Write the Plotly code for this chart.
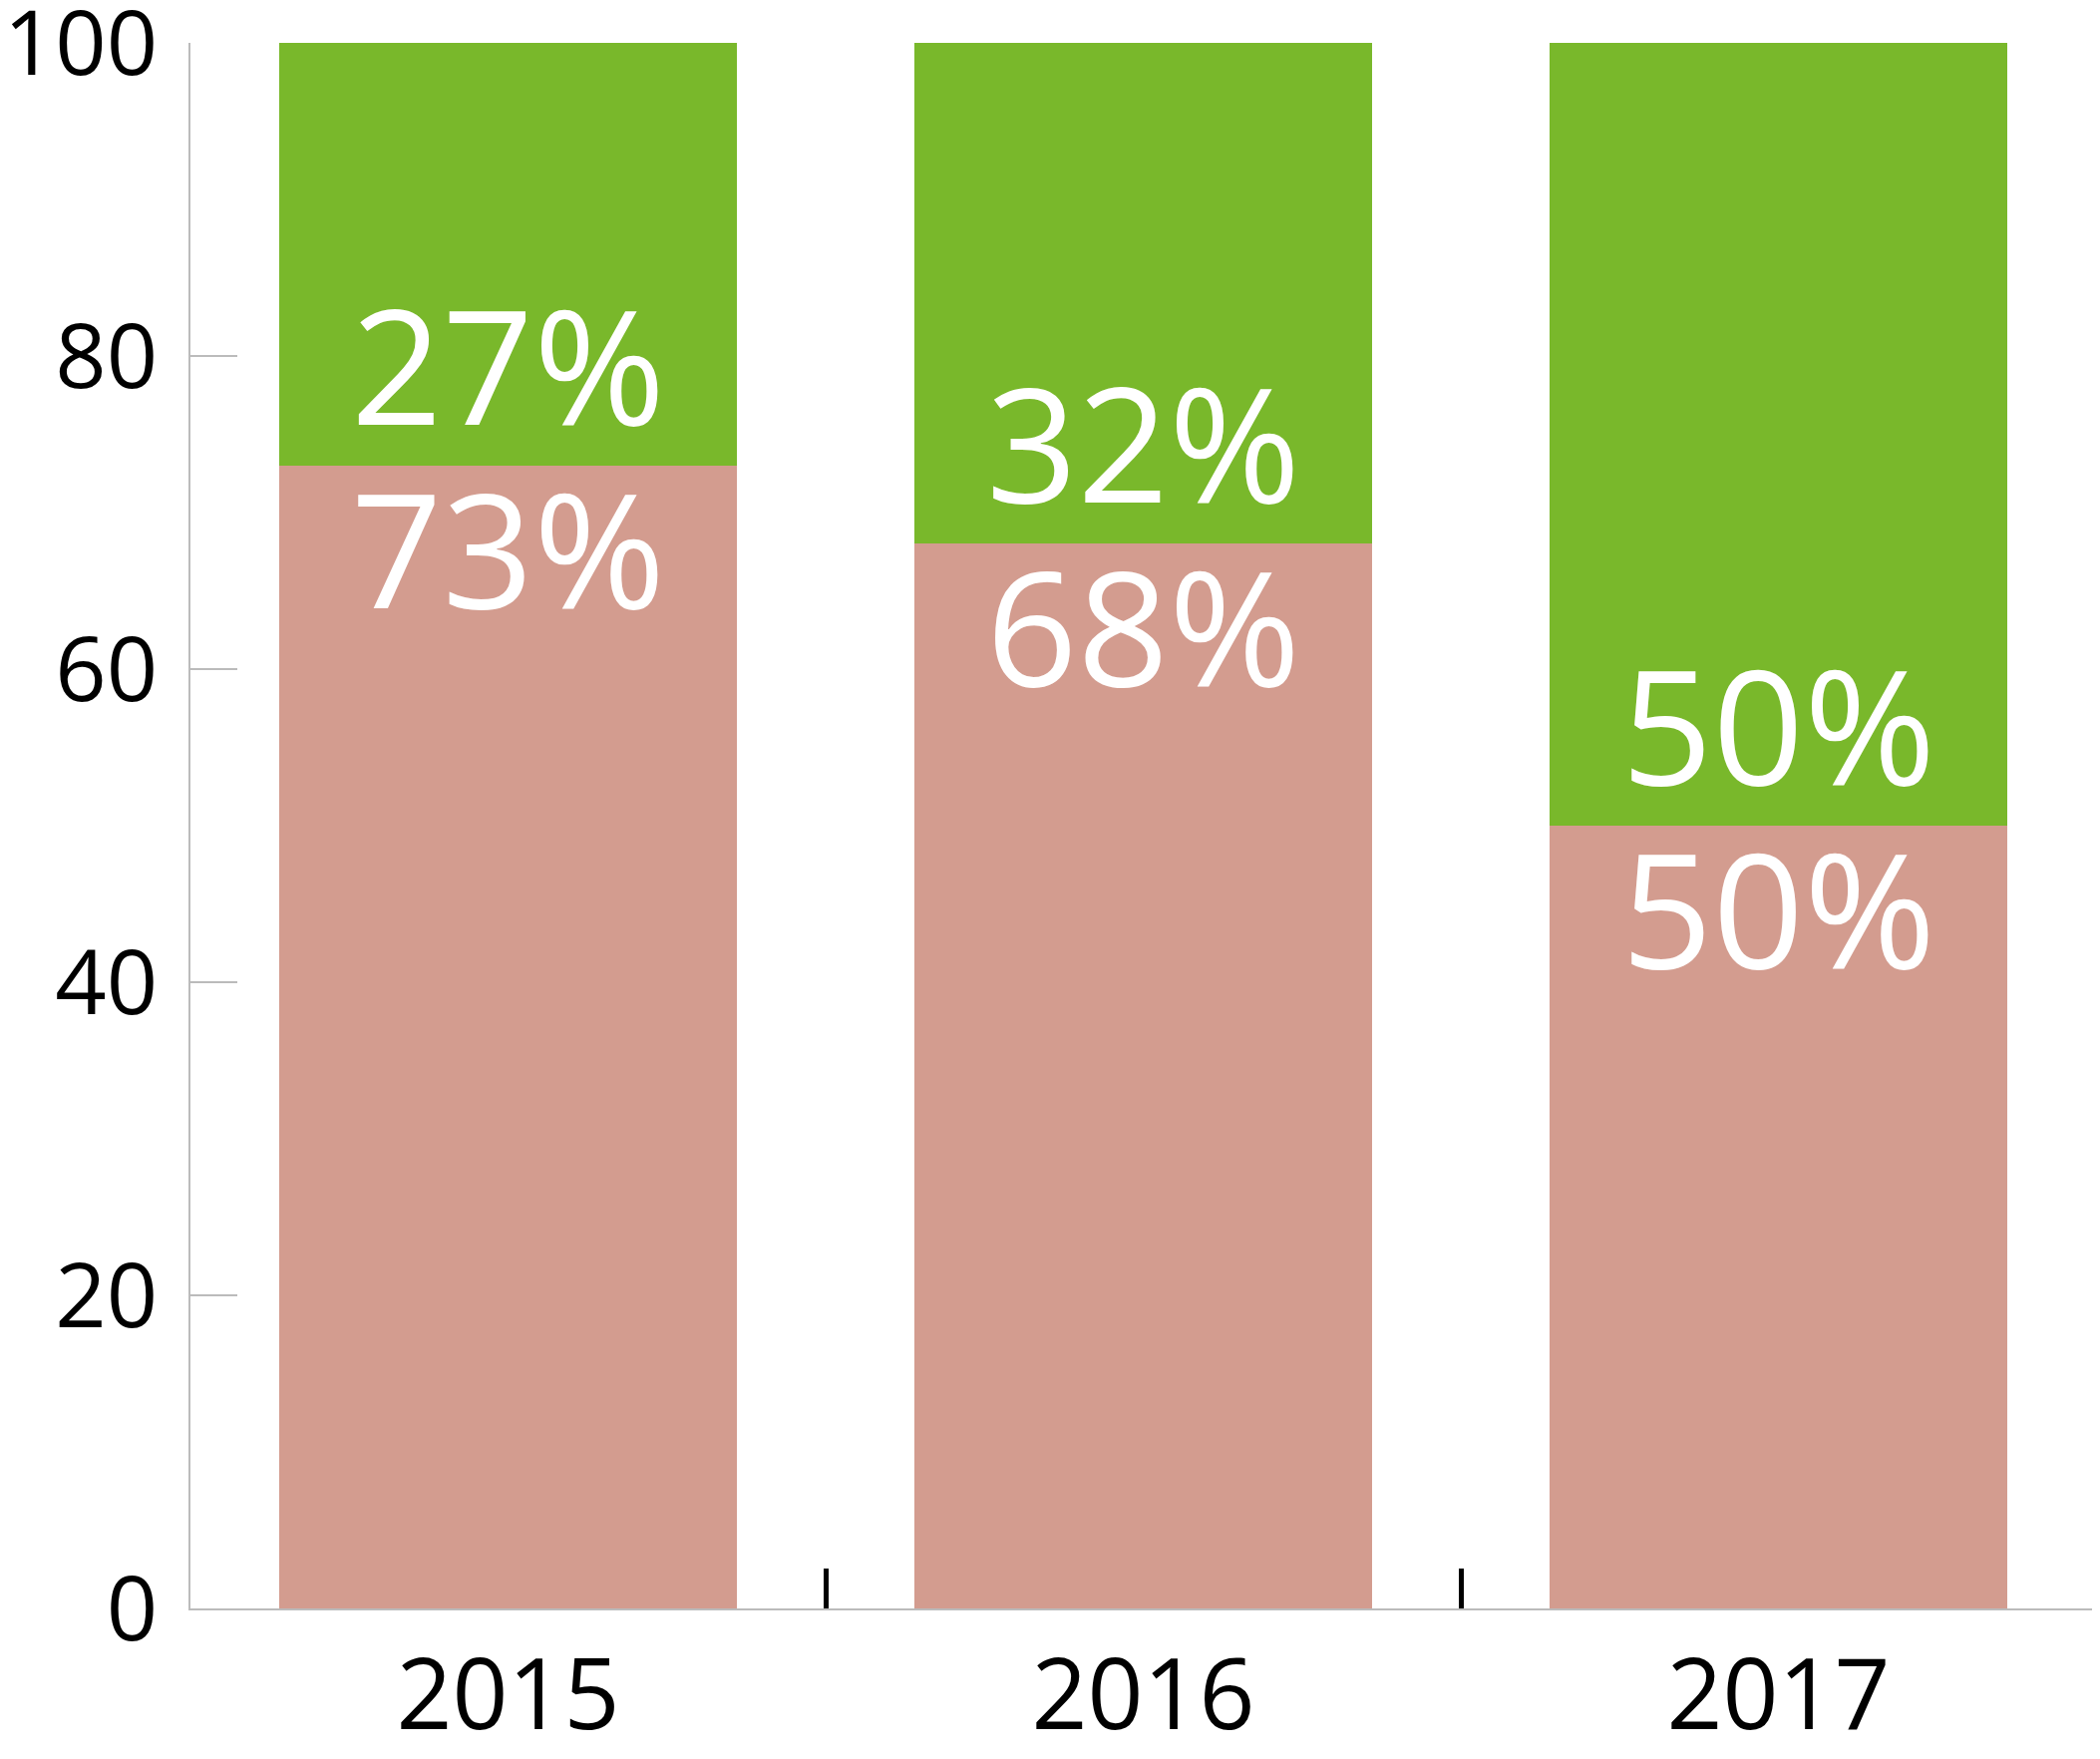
import plotly.graph_objects as go

years = ["2015", "2016", "2017"]
red_vals = [73, 68, 50]
green_vals = [27, 32, 50]
red_labels = ["73%", "68%", "50%"]
green_labels = ["27%", "32%", "50%"]
y_ticks = [0, 20, 40, 60, 80, 100]

RED = "#D39C8F"
GREEN = "#79B82B"
FONT = "Open Sans"

fig = go.Figure()
fig.add_trace(go.Bar(
    x=years, y=red_vals, marker=dict(color=RED, line=dict(width=0)),
    width=0.72, hoverinfo="skip",
))
fig.add_trace(go.Bar(
    x=years, y=green_vals, marker=dict(color=GREEN, line=dict(width=0)),
    width=0.72, hoverinfo="skip",
))

for i, (rv, rl, gl) in enumerate(zip(red_vals, red_labels, green_labels)):
    # red segment label: just below the boundary, inside red
    fig.add_annotation(x=i, y=rv, xref="x", yref="y", text=rl, showarrow=False,
                       yanchor="top", yshift=30,
                       font=dict(family=FONT, size=160, color="white"))
    # green segment label: just above the boundary, inside green
    fig.add_annotation(x=i, y=rv, xref="x", yref="y", text=gl, showarrow=False,
                       yanchor="bottom", yshift=-8,
                       font=dict(family=FONT, size=160, color="white"))

fig.update_layout(
    barmode="stack",
    width=2096, height=1752,
    margin=dict(l=183, r=2, t=35, b=147),
    paper_bgcolor="white", plot_bgcolor="white",
    showlegend=False,
    font=dict(family=FONT, color="black"),
)
fig.update_xaxes(
    type="category", range=[-0.5, 2.5], automargin=False,
    showline=True, linecolor="#BBBBBB", linewidth=1.5,
    ticks="inside", tickson="boundaries", ticklen=40, tickwidth=4.5, tickcolor="black",
    tickfont=dict(family=FONT, size=98, color="black"),
    ticklabelstandoff=2, ticklabeloverflow="allow",
    showgrid=False, zeroline=False,
)
fig.update_yaxes(
    range=[0, 100], tickvals=y_ticks, automargin=False,
    showline=True, linecolor="#BBBBBB", linewidth=1.5,
    ticks="inside", ticklen=47, tickwidth=1.5, tickcolor="#BBBBBB",
    tickfont=dict(family=FONT, size=90, color="black"),
    ticklabelstandoff=13, ticklabeloverflow="allow",
    showgrid=False, zeroline=False,
)

fig.write_html("out.html")
